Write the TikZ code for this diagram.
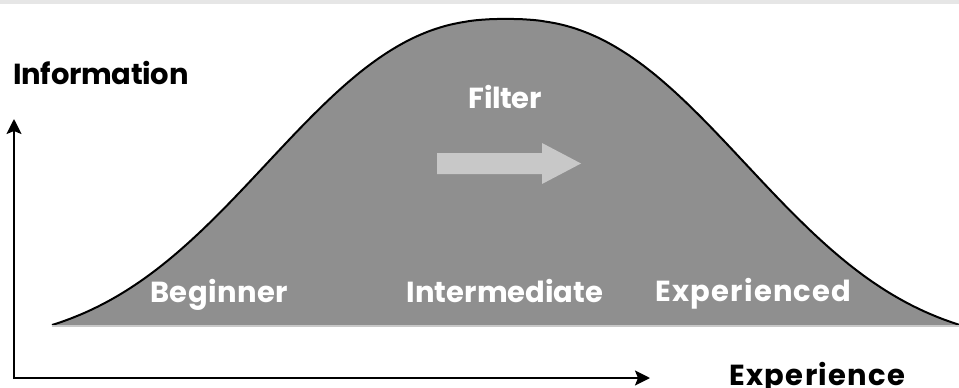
\documentclass[tikz,border=0pt]{standalone}
\usepackage{fontspec}
\setmainfont{Poppins}
\usetikzlibrary{arrows.meta}
\definecolor{bellgray}{HTML}{8F8F8F}
\definecolor{paleshade}{HTML}{C8C8C8}
\definecolor{bandgray}{HTML}{E6E6E6}
\tikzset{
  axislabel/.style={font=\bfseries\fontsize{29}{33}\selectfont\addfontfeatures{LetterSpace=#1}, text=black, anchor=base, inner sep=0pt},
  phaselabel/.style={font=\bfseries\fontsize{29}{33}\selectfont\addfontfeatures{LetterSpace=#1}, text=white, anchor=base, inner sep=0pt},
  axisline/.style={line width=2pt, -{Stealth[length=15pt,width=15pt,inset=3pt]}},
  bell/.style={domain=52:959, samples=240, variable=\t},
}
\begin{document}
\begin{tikzpicture}[x=1pt,y=-1pt]
\useasboundingbox (0,0) rectangle (959,388);
\fill[bandgray] (0,0) rectangle (959,3.5);
% bell curve
\fill[bellgray] plot[bell] (\t,{347-328*exp(-exp(2.4*ln(abs(\t-506)/300+0.0001)))}) -- (959,326) -- (52,326) -- cycle;
\draw[black, line width=2pt, line join=round] plot[bell] (\t,{347-328*exp(-exp(2.4*ln(abs(\t-506)/300+0.0001)))});
\draw[paleshade, line width=1.5pt] (52,326) -- (959,326);
% filter arrow
\fill[paleshade] (437,153) -- (542,153) -- (542,143) -- (581,163.5) -- (542,184) -- (542,174) -- (437,174) -- cycle;
% axes
\coordinate (origin) at (14,378);
\coordinate (ytip) at (14,119);
\coordinate (xtip) at (650,378);
\coordinate (ystart) at (14,379);
\coordinate (xstart) at (13,378);
\draw[axisline] (ystart) -- (ytip);
\draw[axisline] (xstart) -- (xtip);
% labels
\node[axislabel=-1] (info) at (101,84) {Information};
\node[axislabel=4.5] (exp) at (817.5,385) {Experience};
\node[phaselabel=-1.5] (filter) at (505,108) {Filter};
\node[phaselabel=1.5] (beg) at (219,302) {Beginner};
\node[phaselabel=0] (inter) at (505,302) {Intermediate};
\node[phaselabel=4] (expd) at (753.5,301) {Experienced};
\end{tikzpicture}
\end{document}
